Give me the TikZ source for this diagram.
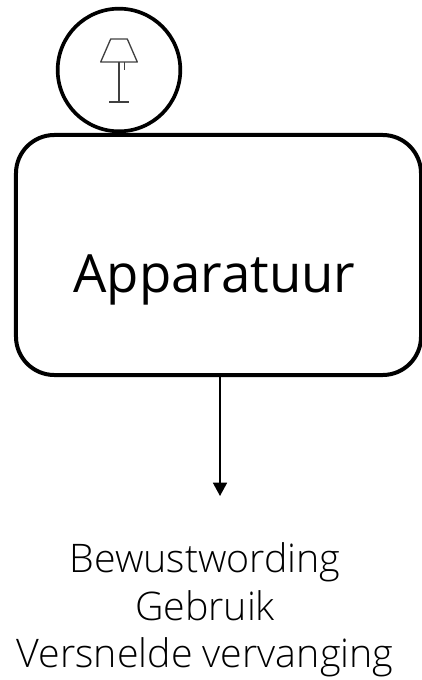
\documentclass[tikz,border=0pt]{standalone}
\usepackage{fontspec}
\setmainfont{Open Sans Light}
\newfontfamily\naamfont{Open Sans}
\usetikzlibrary{arrows.meta,positioning}
\begin{document}
\begin{tikzpicture}[x=0.03cm, y=-0.03cm, node distance=0.9cm,
        kader/.style={draw, line width=0.12cm, rounded corners=1.15cm, minimum width=12.15cm, minimum height=7.2cm, inner sep=0pt},
        rondje/.style={draw, circle, line width=0.11cm, minimum size=3.68cm, inner sep=0pt},
        lamp/.style={draw=black!75, line width=0.04cm},
        regel/.style={font=\fontsize{33.6}{40.5}\selectfont, align=center}]
           \useasboundingbox (0,0) rectangle (421,680);
           \node [kader] (Apparatuur) at (218.5,255) {};
           \node [font=\naamfont\fontsize{45}{46}\selectfont, anchor=base] (naam) at (214.5,292) {Apparatuur};
           \node [rondje] (lampje) at (119,70) {};
           \coordinate (einde) at (220,496);
           \draw [line width=0.05cm, -{Triangle[length=0.4cm,width=0.42cm]}] (einde |- Apparatuur.south) -- (einde);
           \node [regel] (gevolgen) at (205,610) {Bewustwording\\Gebruik\\Versnelde vervanging};
           \draw [lamp, line join=round] (110.7,39) -- (127.3,39) -- (137.3,62) -- (100.7,62) -- cycle;
           \draw [lamp] (119,62) -- (119,102);
           \draw [lamp] (109,102) -- (129,102);
           \draw [lamp] (124.7,62) -- (124.7,70);
\end{tikzpicture}
\end{document}
